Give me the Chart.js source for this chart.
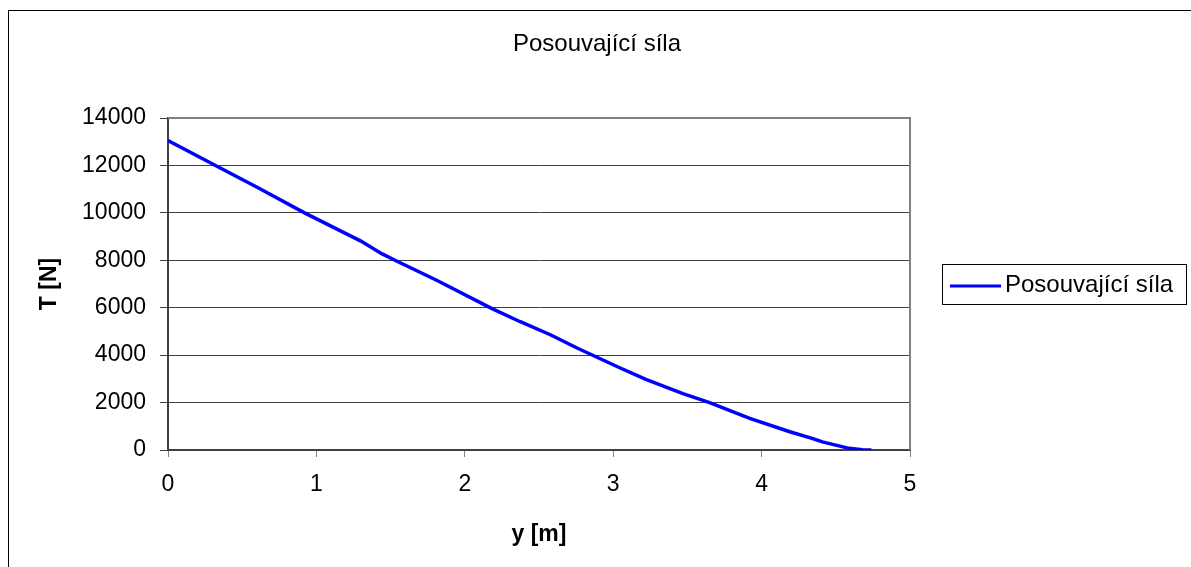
<!DOCTYPE html>
<html>
<head>
<meta charset="utf-8">
<title>Posouvající síla</title>
<script src="https://cdn.jsdelivr.net/npm/chart.js@4/dist/chart.umd.min.js"></script>
<style>
    html, body { margin: 0; padding: 0; background: #fff; }
    #wrap { position: relative; width: 1191px; height: 567px; overflow: hidden; }
    #frame { position: absolute; left: 8px; top: 10px; width: 1400px; height: 800px;
             border-top: 1px solid #000; border-left: 1px solid #000; }
    #chart { position: absolute; left: 0; top: 0; }
</style>
</head>
<body>
<div id="wrap">
    <div id="frame"></div>
    <canvas id="chart" width="1191" height="567"></canvas>
</div>
<script>
// y [m] positions along the beam
const yPos = [0, 0.32, 0.61, 0.92, 1.30, 1.44, 1.54, 1.81, 2.18, 2.37, 2.58, 2.76,
              3.04, 3.22, 3.47, 3.65, 3.92, 4.19, 4.34, 4.41, 4.59, 4.68, 4.74];
// T [N] shear force
const shear = [13050, 12000, 11050, 10000, 8810, 8280, 7970, 7160, 5970, 5420, 4850, 4290,
               3480, 2980, 2380, 2000, 1330, 770, 490, 340, 70, 10, 0];
const seriesName = 'Posouvající síla';
const chartTitle = 'Posouvající síla';
const xTicks = [0, 1, 2, 3, 4, 5];
const yTicks = [0, 2000, 4000, 6000, 8000, 10000, 12000, 14000];

const FONT = 'Arial, "Liberation Sans", sans-serif';

// chart title centred on the page, top/right frame of the plot area, boxed legend
const framePlugin = {
    id: 'framePlugin',
    afterDraw(chart) {
        const ctx = chart.ctx;
        const a = chart.chartArea;
        ctx.save();
        ctx.strokeStyle = '#808080';
        ctx.lineWidth = 2;
        ctx.beginPath();
        ctx.moveTo(a.left, a.top);
        ctx.lineTo(a.right, a.top);
        ctx.lineTo(a.right, a.bottom);
        ctx.stroke();

        ctx.fillStyle = '#000';
        ctx.font = '24px ' + FONT;
        ctx.textAlign = 'center';
        ctx.textBaseline = 'middle';
        ctx.fillText(chartTitle, 597, 44);

        // legend
        const ds = chart.data.datasets[0];
        ctx.strokeStyle = '#000';
        ctx.lineWidth = 1;
        ctx.strokeRect(942.5, 264.5, 244, 40);
        ctx.strokeStyle = ds.borderColor;
        ctx.lineWidth = 3;
        ctx.beginPath();
        ctx.moveTo(950, 286);
        ctx.lineTo(1001, 286);
        ctx.stroke();
        ctx.textAlign = 'left';
        ctx.fillText(ds.label, 1005, 285);
        ctx.restore();
    }
};

new Chart(document.getElementById('chart').getContext('2d'), {
    type: 'scatter',
    data: {
        datasets: [{
            label: seriesName,
            data: yPos.map((x, i) => ({ x: x, y: shear[i] })),
            showLine: true,
            borderColor: '#0000ff',
            borderWidth: 3.5,
            pointRadius: 0,
            tension: 0
        }]
    },
    options: {
        responsive: false,
        animation: false,
        devicePixelRatio: 1,
        layout: { padding: { left: 0, right: 281, top: 118, bottom: 0 } },
        plugins: {
            legend: { display: false },
            tooltip: { enabled: false },
            title: { display: false }
        },
        scales: {
            x: {
                type: 'linear',
                min: 0,
                max: 5,
                afterFit: s => { s.height = 117; },
                afterBuildTicks: s => { s.ticks = xTicks.map(v => ({ value: v })); },
                ticks: {
                    color: '#000',
                    font: { family: FONT, size: 23 },
                    padding: 14,
                    maxRotation: 0,
                    callback: v => String(v)
                },
                grid: {
                    drawOnChartArea: false,
                    drawTicks: true,
                    tickLength: 7,
                    color: '#808080'
                },
                border: { color: '#404040', width: 2 },
                title: {
                    display: true,
                    text: 'y [m]',
                    color: '#000',
                    font: { family: FONT, size: 23, weight: 'bold' },
                    padding: { top: 0, bottom: 19 }
                }
            },
            y: {
                min: 0,
                max: 14000,
                afterFit: s => { s.width = 168; },
                afterBuildTicks: s => { s.ticks = yTicks.map(v => ({ value: v })); },
                ticks: {
                    color: '#000',
                    font: { family: FONT, size: 23 },
                    padding: 14,
                    callback: v => String(v)
                },
                grid: {
                    color: '#404040',
                    lineWidth: 1,
                    tickLength: 8,
                    tickColor: '#404040'
                },
                border: { color: '#404040', width: 2 },
                title: {
                    display: true,
                    text: 'T [N]',
                    color: '#000',
                    font: { family: FONT, size: 23, weight: 'bold' },
                    padding: { top: 36, bottom: 0 }
                }
            }
        }
    },
    plugins: [framePlugin]
});
</script>
</body>
</html>
